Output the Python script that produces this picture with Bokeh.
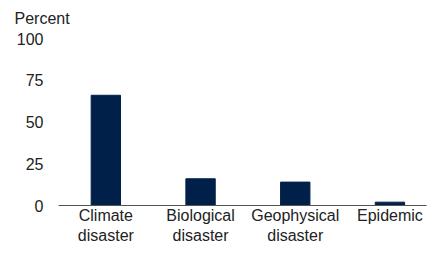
from bokeh.plotting import figure
from bokeh.models import Range1d, FixedTicker
from bokeh.embed import file_html
from bokeh.resources import INLINE

categories = ["Climate\ndisaster", "Biological\ndisaster", "Geophysical\ndisaster", "Epidemic"]
values = [66, 16, 14, 2]
y_ticks = [0, 25, 50, 75, 100]

xs = list(range(len(categories)))

p = figure(width=428, height=255, output_backend="svg", toolbar_location=None,
           x_range=Range1d(-0.5, 3.386), y_range=Range1d(0, 100),
           min_border_left=58, min_border_right=2, min_border_top=38, min_border_bottom=50)

p.vbar(x=xs, top=values, width=0.31, fill_color="#00204A", line_color="#00204A")

p.grid.visible = False
p.outline_line_color = None
p.background_fill_color = "white"
p.border_fill_color = "white"

font = "Liberation Sans"
txt_color = "#222222"

p.xaxis.ticker = FixedTicker(ticks=xs)
p.xaxis.major_label_overrides = {i: c for i, c in enumerate(categories)}
p.xaxis.major_tick_line_color = None
p.xaxis.minor_tick_line_color = None
p.xaxis.axis_line_color = "#555555"
p.xaxis.axis_line_width = 1
p.xaxis.major_label_standoff = -5
p.xaxis.major_label_text_font = font
p.xaxis.major_label_text_font_size = "16px"
p.xaxis.major_label_text_color = txt_color
p.xaxis.major_label_text_line_height = 1.2

p.yaxis.ticker = FixedTicker(ticks=y_ticks)
p.yaxis.axis_line_color = None
p.yaxis.major_tick_line_color = None
p.yaxis.minor_tick_line_color = None
p.yaxis.major_label_standoff = 9
p.yaxis.major_label_text_font = font
p.yaxis.major_label_text_font_size = "16px"
p.yaxis.major_label_text_color = txt_color

p.title.text = "Percent"
p.title.align = "left"
p.title.vertical_align = "top"
p.title.offset = -44
p.title.standoff = 19
p.title.text_font = font
p.title.text_font_size = "16px"
p.title.text_font_style = "normal"
p.title.text_color = txt_color

open("out.html", "w").write(file_html(p, INLINE))
